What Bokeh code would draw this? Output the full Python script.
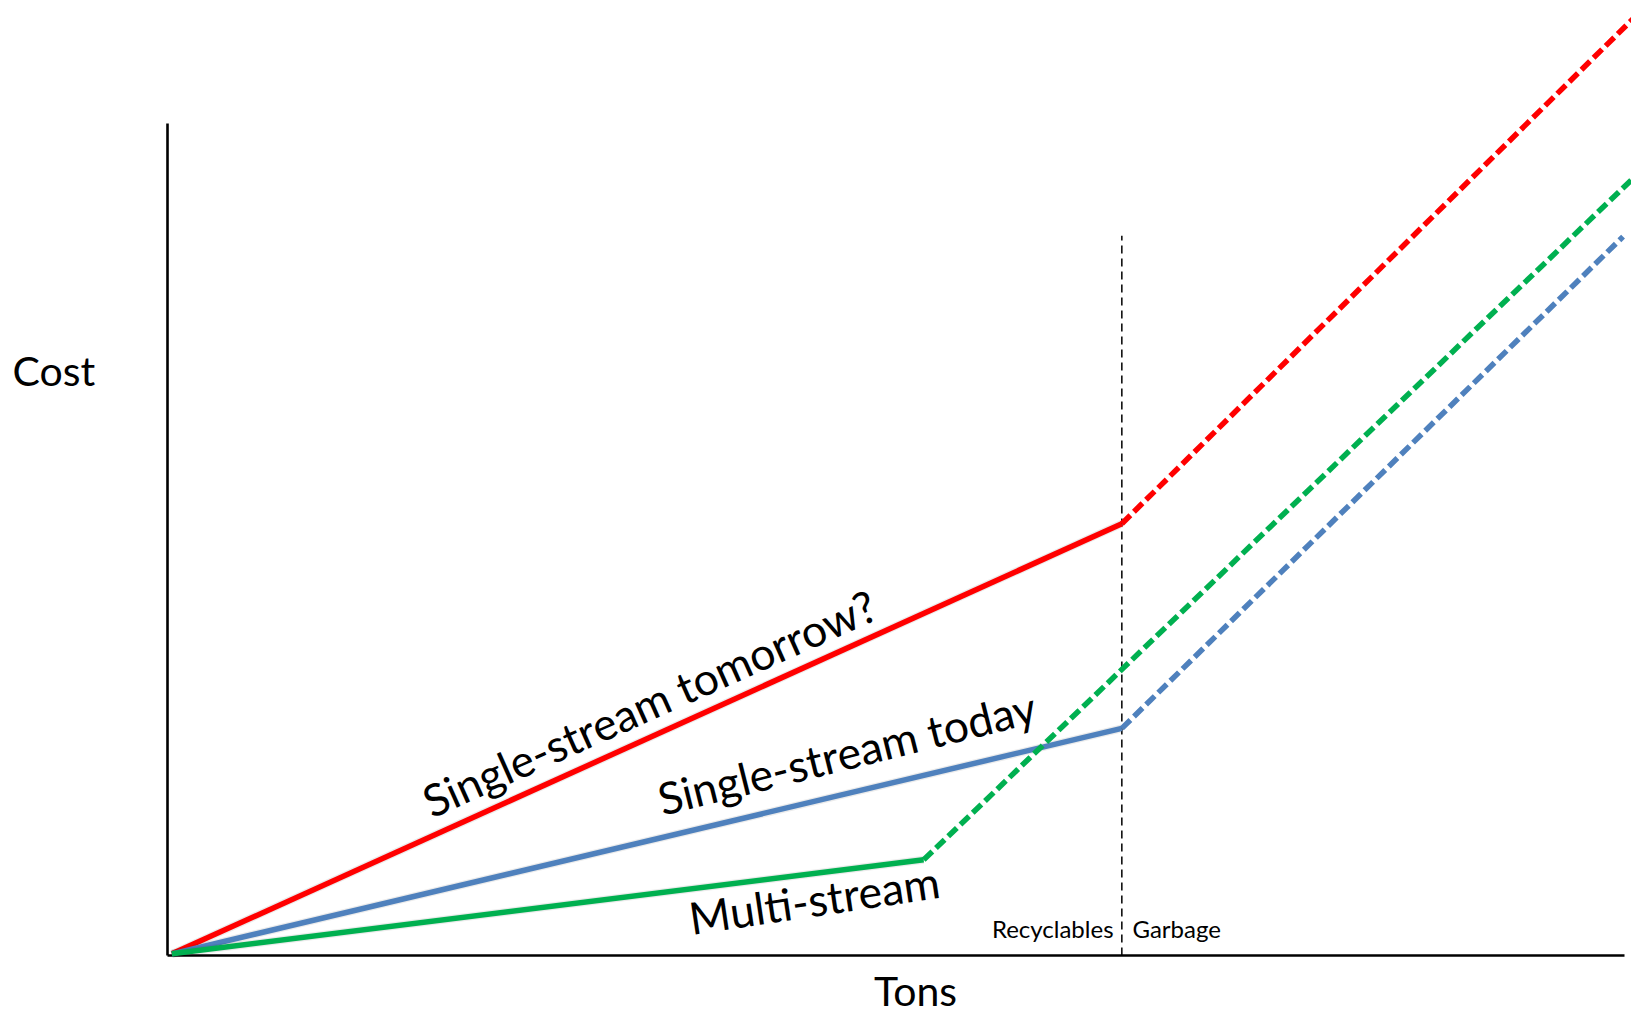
import math
from bokeh.plotting import figure
from bokeh.models import Range1d, ColumnDataSource
from bokeh.core.properties import value
from bokeh.embed import file_html
from bokeh.resources import INLINE

# ---------------- data ----------------
series = ["Single-stream tomorrow?", "Single-stream today", "Multi-stream"]
colors = ["#FF0000", "#4F81BD", "#00B050"]
start_tons = [0.3, 0.3, 0.3]
start_cost = [0.2, 0.2, 0.2]
kink_tons = [65.5, 65.5, 51.9]
kink_cost = [51.9, 27.3, 11.5]
end_tons = [101.0, 99.9, 101.0]
end_cost = [113.3, 86.4, 94.1]

label_tons = [17.66, 33.70, 35.80]
label_cost = [18.36, 18.82, 4.54]
label_angle_deg = [24.1, 14.0, 8.5]

divider_tons = 65.5
divider_top = 86.5
axis_max_tons = 100
axis_max_cost = 100

region_labels = ["Recyclables", "Garbage"]
region_tons = [64.93, 66.23]
region_cost = [3.3, 3.3]
region_align = ["right", "left"]

# ---------------- figure ----------------
W, H = 1631, 1020
p = figure(width=W, height=H, output_backend="svg", toolbar_location=None,
           x_range=Range1d(-11.462, 100.48), y_range=Range1d(-7.812, 114.784),
           min_border=0)
p.axis.visible = False
p.grid.visible = False
p.outline_line_color = None
p.background_fill_color = "white"
p.border_fill_color = "white"

FONT = value("Lato")

# axes
p.segment(x0=[0, 0], y0=[0, 0], x1=[0, axis_max_tons], y1=[axis_max_cost, 0],
          line_color="black", line_width=2.6)

# divider
p.segment(x0=[divider_tons], y0=[0], x1=[divider_tons], y1=[divider_top],
          line_color="black", line_width=1.5, line_dash="8 5")

# series
for i in range(len(series)):
    p.line([start_tons[i], kink_tons[i]], [start_cost[i], kink_cost[i]],
           line_color="#000000", line_alpha=0.08, line_width=8)
    p.line([start_tons[i], kink_tons[i]], [start_cost[i], kink_cost[i]],
           line_color=colors[i], line_width=5.5)
    p.line([kink_tons[i], end_tons[i]], [kink_cost[i], end_cost[i]],
           line_color=colors[i], line_width=5.5, line_dash="12 5")

# series labels
src = ColumnDataSource(dict(x=label_tons, y=label_cost, t=series,
                            a=[math.radians(d) for d in label_angle_deg]))
p.text(x="x", y="y", text="t", angle="a", source=src, text_font=FONT,
       text_font_size="44.5px", text_color="black", text_align="left",
       text_baseline="alphabetic")

# region labels
for lab, x, y, al in zip(region_labels, region_tons, region_cost, region_align):
    p.text(x=[x], y=[y], text=[lab], text_font=FONT, text_font_size="24px",
           text_color="black", text_align=al, text_baseline="alphabetic")

# axis titles
p.text(x=[-10.64], y=[70.3], text=["Cost"], text_font=FONT, text_font_size="41px",
       text_color="black", text_align="left", text_baseline="alphabetic")
p.text(x=[51.34], y=[-4.2], text=["Tons"], text_font=FONT, text_font_size="41px",
       text_color="black", text_align="center", text_baseline="alphabetic")

open("out.html", "w").write(file_html(p, INLINE))
